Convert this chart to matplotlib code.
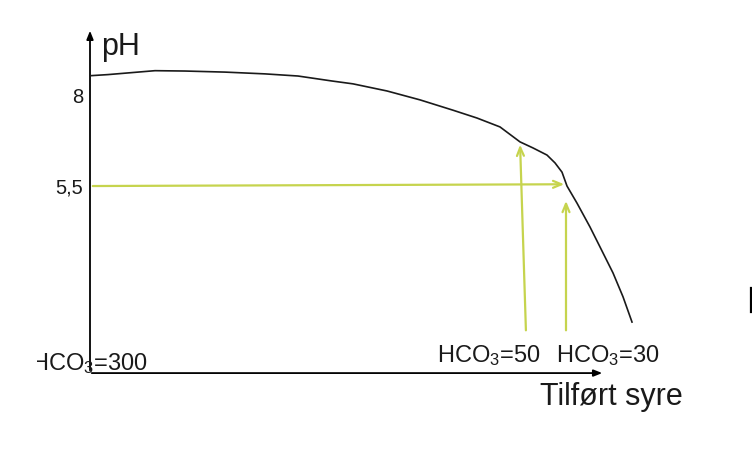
import matplotlib
matplotlib.use("Agg")
import matplotlib.pyplot as plt
from matplotlib.patches import Rectangle

plt.rcParams['font.family'] = ['Liberation Sans', 'DejaVu Sans']
plt.rcParams['mathtext.fontset'] = 'custom'
plt.rcParams['mathtext.rm'] = 'Liberation Sans'
plt.rcParams['mathtext.it'] = 'Liberation Sans'

# titration curve (added acid, arbitrary units -> pH)
acid = [0.2, 3.6, 13, 19, 27, 35, 41.6, 48.4, 52.6, 59.4, 66, 72.6, 77.4, 82,
        86, 88.6, 91.4, 93, 94.4, 95.4, 97.4, 100, 102, 104.6, 106.6, 108.4]
ph = [8.60, 8.63, 8.74, 8.73, 8.70, 8.65, 8.59, 8.45, 8.37, 8.17, 7.92, 7.63, 7.41, 7.16,
      6.74, 6.57, 6.37, 6.15, 5.89, 5.5, 5.02, 4.35, 3.79, 3.06, 2.39, 1.68]

ph_ticks = [8, 5.45]
ph_tick_labels = ['8', '5,5']

# yellow helper arrows
ph_mark = 5.5
acid_mark = 95.4
hco3_labels = ['HCO$_3$=50', 'HCO$_3$=30']
hco3_x_bottom = [87.2, 95.2]
hco3_x_top = [86.0, 95.2]
hco3_ph_top = [6.74, 5.16]
hco3_ph_bottom = 1.37

yel = '#c6d44e'
txt = '#1a1a1a'

fig = plt.figure(figsize=(7.52, 4.57), dpi=100)
ax = fig.add_axes([0, 0, 1, 1])
ax.set_xlim(-18, 132.4)
ax.set_ylim(-2.11, 10.725)
ax.axis('off')

# axes with arrows
x0, y0 = 0, 0.247
ax.annotate('', xy=(x0, 9.94), xytext=(x0, y0),
            arrowprops=dict(arrowstyle='-|>,head_length=0.5,head_width=0.2', color='black', lw=1.3))
ax.annotate('', xy=(103, y0), xytext=(x0 - 0.2, y0),
            arrowprops=dict(arrowstyle='-|>,head_length=0.5,head_width=0.2', color='black', lw=1.3))

ax.plot(acid, ph, color='#1a1a1a', lw=1.2, zorder=3)

# horizontal pH 5.5 arrow
ax.annotate('', xy=(acid_mark, ph_mark + 0.05), xytext=(x0, ph_mark),
            arrowprops=dict(arrowstyle='->,head_length=0.6,head_width=0.25', color=yel, lw=1.6))
for xb, xt, yt in zip(hco3_x_bottom, hco3_x_top, hco3_ph_top):
    ax.annotate('', xy=(xt, yt), xytext=(xb, hco3_ph_bottom),
                arrowprops=dict(arrowstyle='->,head_length=0.6,head_width=0.25', color=yel, lw=1.6))

# tick labels
ax.text(-1.3, ph_ticks[0], ph_tick_labels[0], ha='right', va='center', fontsize=14.5, color=txt)
ax.text(-1.4, ph_ticks[1], ph_tick_labels[1], ha='right', va='center', fontsize=14.5, color=txt)

ax.text(2.2, 9.18, 'pH', ha='left', va='baseline', fontsize=22, color=txt)
ax.text(90, -0.65, 'Tilført syre', ha='left', va='baseline', fontsize=22, color=txt)

for lab, xl in zip(hco3_labels, [69.4, 93.2]):
    ax.text(xl, 0.56, lab, ha='left', va='baseline', fontsize=17, color=txt)

t = ax.text(11.6, 0.33, 'HCO$_3$=300', ha='right', va='baseline', fontsize=17,
            color=txt, clip_on=True)
t.set_clip_path(Rectangle((-10.6, -3), 200, 20, transform=ax.transData))

# stray mark at the right edge
ax.plot([132.2, 132.2], [2.63, 1.96], color='black', lw=1.6)

fig.savefig('out.png', dpi=100)
